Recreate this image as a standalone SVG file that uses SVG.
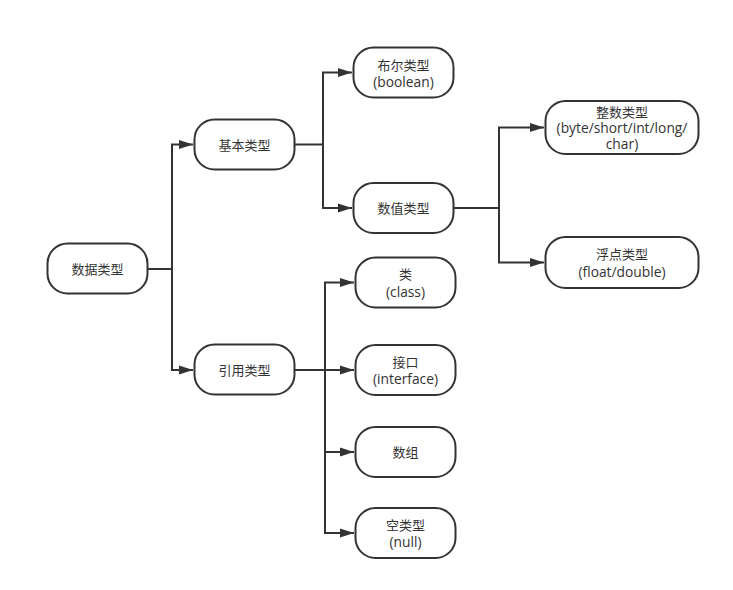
<svg xmlns="http://www.w3.org/2000/svg" width="733" height="590" viewBox="0 0 733 590">
<style>
.n{fill:#fff;stroke:#333;stroke-width:2}
.t{font-family:"Open Sans","Noto Sans CJK SC",sans-serif;font-size:13px;fill:#333;text-anchor:middle;dominant-baseline:central}
.e{font-size:13.8px}
.c{fill:none;stroke:#333;stroke-width:2}
</style>
<defs>
<marker id="a" markerWidth="14" markerHeight="10" refX="14" refY="5" orient="auto" markerUnits="userSpaceOnUse">
<path d="M0,0.5 L14,5 L0,9.5 Z" fill="#333"/>
</marker>
</defs>
<rect width="733" height="590" fill="#fff"/>
<g id="connectors">
<path class="c" d="M148,269 H172 V144.5 H193" marker-end="url(#a)"/>
<path class="c" d="M172,269 V370 H193" marker-end="url(#a)"/>
<path class="c" d="M295,144.5 H323 V72.5 H352" marker-end="url(#a)"/>
<path class="c" d="M323,144.5 V208 H352" marker-end="url(#a)"/>
<path class="c" d="M453,208 H499 V127.5 H544" marker-end="url(#a)"/>
<path class="c" d="M499,208 V262.5 H544" marker-end="url(#a)"/>
<path class="c" d="M295,370 H354" marker-end="url(#a)"/>
<path class="c" d="M325,370 V282.5 H354" marker-end="url(#a)"/>
<path class="c" d="M325,370 V452 H354" marker-end="url(#a)"/>
<path class="c" d="M325,452 V533 H354" marker-end="url(#a)"/>
</g>
<g id="n1"><rect class="n" x="47.5" y="243.5" width="100" height="50" rx="20"/><text class="t" x="97.5" y="268.5">数据类型</text></g>
<g id="n2"><rect class="n" x="194.5" y="119.5" width="100" height="50" rx="20"/><text class="t" x="244.5" y="144.5">基本类型</text></g>
<g id="n3"><rect class="n" x="194.5" y="344.5" width="100" height="50" rx="20"/><text class="t" x="244.5" y="369.5">引用类型</text></g>
<g id="n4"><rect class="n" x="353.5" y="47.5" width="100" height="50" rx="20"/><text class="t" x="403.5" y="64.5">布尔类型</text><text class="t e" x="403.5" y="81">(boolean)</text></g>
<g id="n5"><rect class="n" x="353.5" y="183" width="100" height="50" rx="20"/><text class="t" x="403.5" y="208">数值类型</text></g>
<g id="n6"><rect class="n" x="545.5" y="101" width="153" height="53" rx="20"/><text class="t" x="622" y="111.5">整数类型</text><text class="t e" x="622" y="127.5">(byte/short/int/long/</text><text class="t e" x="622" y="143.5">char)</text></g>
<g id="n7"><rect class="n" x="545.5" y="237" width="153" height="51" rx="20"/><text class="t" x="622" y="254">浮点类型</text><text class="t e" x="622" y="271">(float/double)</text></g>
<g id="n8"><rect class="n" x="355.5" y="257.5" width="100" height="50" rx="20"/><text class="t" x="405.5" y="274">类</text><text class="t e" x="405.5" y="291">(class)</text></g>
<g id="n9"><rect class="n" x="355.5" y="345" width="100" height="50" rx="20"/><text class="t" x="405.5" y="361.5">接口</text><text class="t e" x="405.5" y="378">(interface)</text></g>
<g id="n10"><rect class="n" x="355.5" y="427" width="100" height="50" rx="20"/><text class="t" x="405.5" y="452">数组</text></g>
<g id="n11"><rect class="n" x="355.5" y="508" width="100" height="50" rx="20"/><text class="t" x="405.5" y="524.5">空类型</text><text class="t e" x="405.5" y="541">(null)</text></g>
</svg>
